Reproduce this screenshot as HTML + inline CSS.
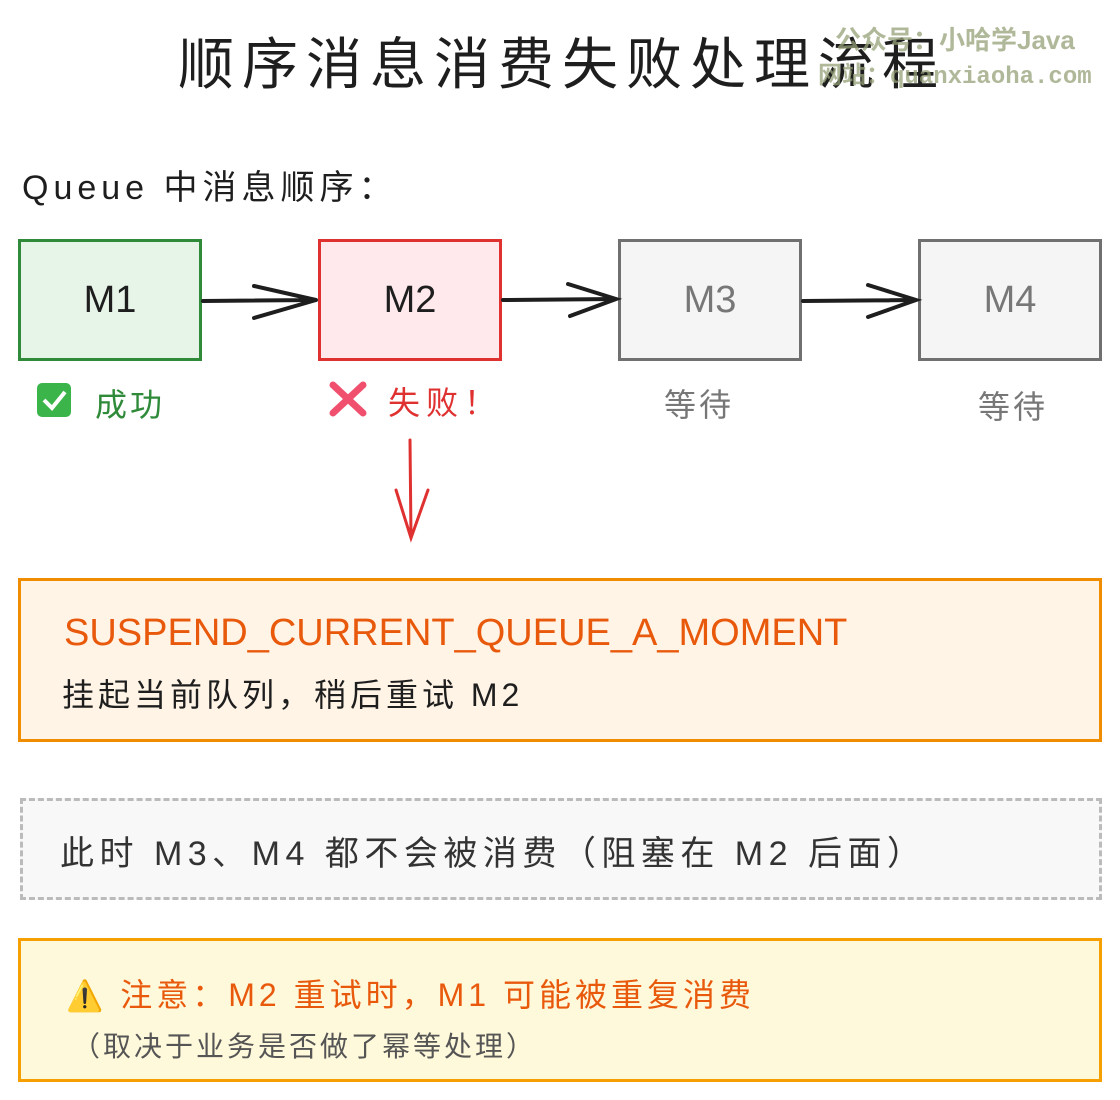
<!DOCTYPE html>
<html><head><meta charset="utf-8"><style>
body{margin:0;width:1120px;height:1100px;background:#fff;position:relative;overflow:hidden;font-family:"Liberation Sans","Noto Sans CJK SC",sans-serif;color:#1e1e1e}
.a{position:absolute;white-space:nowrap}
.box{position:absolute;box-sizing:border-box;border:3px solid;display:flex;align-items:center;justify-content:center;font-size:38px}
</style></head><body>
<div class="a" style="left:178px;top:20px;font-size:56px;letter-spacing:8px;color:#1e1e1e">顺序消息消费失败处理流程</div>
<div class="a" style="left:835px;top:20px;font-size:26px;color:rgba(150,160,120,0.75);font-weight:bold">公众号：小哈学Java</div>
<div class="a" style="left:818px;top:55px;font-size:24px;color:rgba(150,160,120,0.75);font-family:'Liberation Mono','Noto Sans CJK SC',monospace;font-weight:bold">网站：quanxiaoha.com</div>

<div class="a" style="left:22px;top:160px;font-size:34px;letter-spacing:5px">Queue 中消息顺序：</div>

<div class="box" style="left:18px;top:239px;width:184px;height:122px;border-color:#2f8a3a;background:#e7f5e9">M1</div>
<div class="box" style="left:318px;top:239px;width:184px;height:122px;border-color:#e03131;background:#ffe9ec">M2</div>
<div class="box" style="left:618px;top:239px;width:184px;height:122px;border-color:#707070;background:#f5f5f5;color:#777">M3</div>
<div class="box" style="left:918px;top:239px;width:184px;height:122px;border-color:#707070;background:#f5f5f5;color:#777">M4</div>

<svg class="a" style="left:0;top:0" width="1120" height="600">
<g stroke="#1e1e1e" stroke-width="4" fill="none" stroke-linecap="round">
<path d="M203 301 L316 300 M254 286 L316 300 L254 318"/>
<path d="M503 300 L616 299 M568 284 L616 299 L570 316"/>
<path d="M803 301 L916 300 M868 285 L916 300 L868 317"/>
</g>
<g stroke="#e03131" stroke-width="3" fill="none" stroke-linecap="round">
<path d="M410 440 L411 538 M396 490 L411 538 L428 490"/>
</g>
<rect x="37" y="383" width="34" height="34" rx="5" fill="#3bb54a"/>
<path d="M44 400 L52 408 L65 392" stroke="#fff" stroke-width="4" fill="none"/>
<path d="M333 385 L363 413 M363 385 L333 413" stroke="#f0506e" stroke-width="7" stroke-linecap="round"/>
</svg>
<div class="a" style="left:95px;top:380px;font-size:32px;color:#2f8a3a;letter-spacing:3px">成功</div>
<div class="a" style="left:388px;top:378px;font-size:32px;color:#e03131;letter-spacing:6px">失败！</div>
<div class="a" style="left:664px;top:380px;font-size:32px;color:#777;letter-spacing:3px">等待</div>
<div class="a" style="left:978px;top:382px;font-size:32px;color:#777;letter-spacing:3px">等待</div>

<div class="a" style="left:18px;top:578px;width:1084px;height:164px;box-sizing:border-box;border:3px solid #f08c00;background:#fff4e6"></div>
<div class="a" style="left:64px;top:612px;font-size:38px;color:#e8590c">SUSPEND_CURRENT_QUEUE_A_MOMENT</div>
<div class="a" style="left:62px;top:670px;font-size:32px;letter-spacing:4px">挂起当前队列，稍后重试 M2</div>

<div class="a" style="left:20px;top:798px;width:1082px;height:102px;box-sizing:border-box;border:3px dashed #bbb;background:#f8f8f8"></div>
<div class="a" style="left:60px;top:826px;font-size:34px;color:#333;letter-spacing:5.5px">此时 M3、M4 都不会被消费（阻塞在 M2 后面）</div>

<div class="a" style="left:18px;top:938px;width:1084px;height:144px;box-sizing:border-box;border:3px solid #f59f00;background:#fff9db"></div>
<div class="a" style="left:66px;top:970px;font-size:32px;color:#e8590c;letter-spacing:4px"><span style="font-size:30px">⚠️</span> 注意：M2 重试时，M1 可能被重复消费</div>
<div class="a" style="left:72px;top:1025px;font-size:28px;color:#555;letter-spacing:3px">（取决于业务是否做了幂等处理）</div>
</body></html>
